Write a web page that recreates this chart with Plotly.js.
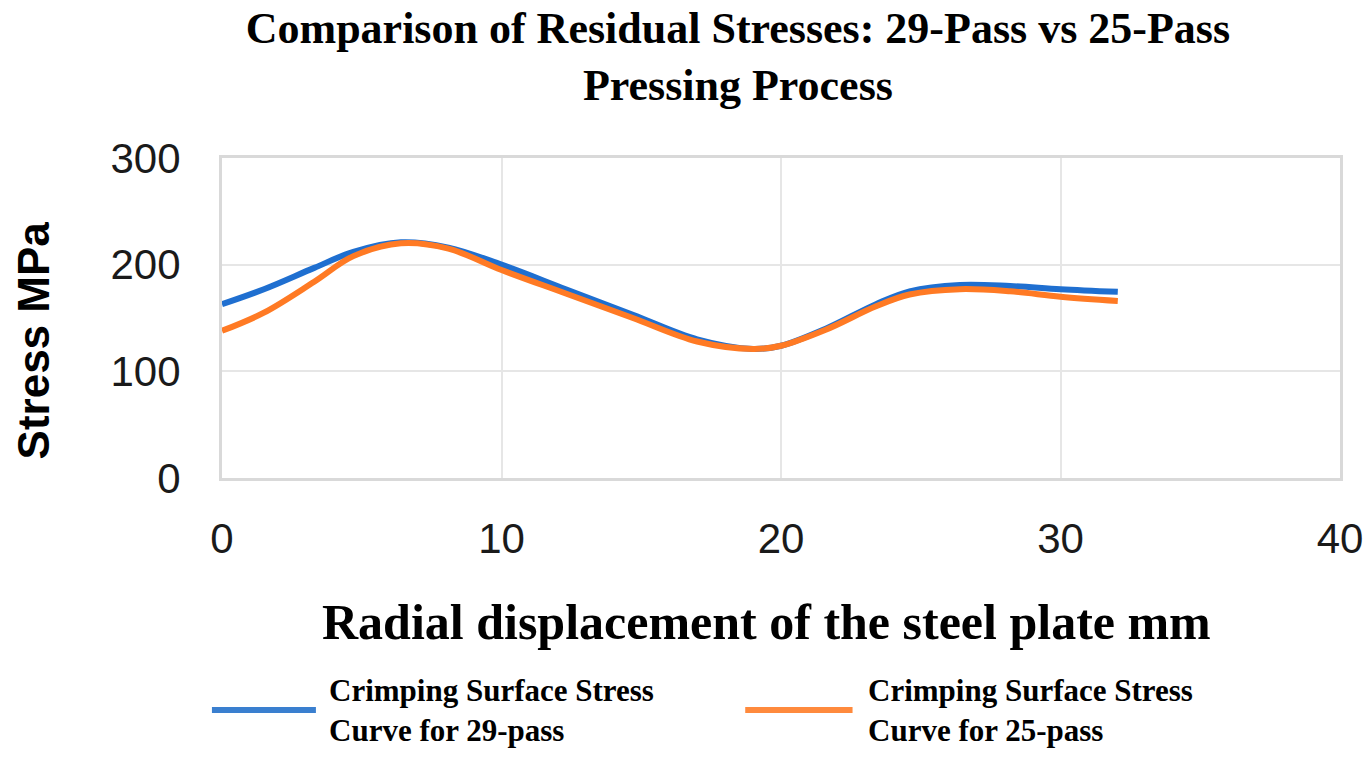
<!DOCTYPE html>
<html>
<head>
<meta charset="utf-8">
<script src="https://cdn.plot.ly/plotly-3.0.1.min.js"></script>
<style>
  html, body { margin: 0; padding: 0; background: #fff; }
  #chart { width: 1369px; height: 762px; }
</style>
</head>
<body>
<div id="chart"></div>
<script>
// residual stress along the radial displacement
const displacement = [0, 1.5, 3.3, 4.7, 6.4, 8.1, 10, 12.3, 14.7, 17, 19, 20, 21.6, 23.4, 24.6, 26.4, 28.2, 30, 32.05];
const stress29 = [163, 177, 197, 212, 221, 216, 200, 177, 153, 130, 121, 124, 140, 163, 175, 181, 180, 177, 174.5];
const stress25 = [138, 155, 184, 208, 220, 215, 195, 173, 150, 128, 121, 124, 139, 161, 172, 177, 175, 170, 166];
const seriesNames = ['Crimping Surface Stress<br>Curve for 29-pass', 'Crimping Surface Stress<br>Curve for 25-pass'];
const xTicks = [0, 10, 20, 30, 40];
const yTicks = [0, 100, 200, 300];

const blue = '#1f6fd0';
const orange = '#ff7a24';
const serif = '"Liberation Serif", "Times New Roman", serif';
const sans = '"Liberation Sans", Arial, sans-serif';

let traces = [
    {
        x: displacement, y: stress29, name: seriesNames[0],
        type: 'scatter', mode: 'lines',
        line: {color: blue, width: 6, shape: 'spline', smoothing: 1}
    },
    {
        x: displacement, y: stress25, name: seriesNames[1],
        type: 'scatter', mode: 'lines',
        line: {color: orange, width: 6, shape: 'spline', smoothing: 1}
    }
]

const layout = {
    width: 1369,
    height: 762,
    paper_bgcolor: '#fff',
    plot_bgcolor: '#fff',
    showlegend: false,
    margin: {l: 222, r: 29, t: 158, b: 284},
    title: {
        text: 'Comparison of Residual Stresses: 29-Pass vs 25-Pass<br>Pressing Process',
        font: {family: serif, size: 44, color: '#000', weight: 'bold'},
        xref: 'container', x: 0.539, xanchor: 'center',
        yref: 'container', y: 0.944, yanchor: 'top'
    },
    xaxis: {
        range: [0, 40],
        tickvals: xTicks,
        ticktext: xTicks.map(String),
        tickfont: {family: sans, size: 42, color: '#1a1a1a'},
        ticklabelstandoff: 22,
        showgrid: true, gridcolor: '#e6e6e6', gridwidth: 2,
        zeroline: false,
        showline: true, linecolor: '#d9d9d9', linewidth: 3, mirror: true,
        ticks: ''
    },
    yaxis: {
        range: [0, 300],
        tickvals: yTicks,
        ticktext: yTicks.map(String),
        tickfont: {family: sans, size: 42, color: '#1a1a1a'},
        ticklabelstandoff: 30,
        showgrid: true, gridcolor: '#e6e6e6', gridwidth: 2,
        zeroline: false,
        showline: true, linecolor: '#d9d9d9', linewidth: 3, mirror: true,
        ticks: ''
    },
    annotations: [
        {
            text: 'Radial displacement of the steel plate mm',
            xref: 'paper', yref: 'paper', x: 0.487, y: -0.45,
            xanchor: 'center', yanchor: 'middle', showarrow: false,
            font: {family: serif, size: 50, color: '#000', weight: 'bold'}
        },
        {
            text: 'Stress MPa', textangle: -90,
            xref: 'paper', yref: 'paper', x: -0.169, y: 0.43,
            xanchor: 'center', yanchor: 'middle', showarrow: false,
            font: {family: sans, size: 44, color: '#000', weight: 'bold'}
        },
        // legend text
        {
            text: seriesNames[0], align: 'left',
            xref: 'paper', yref: 'paper', x: 0.094, y: -0.725,
            xanchor: 'left', yanchor: 'middle', showarrow: false,
            font: {family: serif, size: 31, color: '#000', weight: 'bold'}
        },
        {
            text: seriesNames[1], align: 'left',
            xref: 'paper', yref: 'paper', x: 0.576, y: -0.725,
            xanchor: 'left', yanchor: 'middle', showarrow: false,
            font: {family: serif, size: 31, color: '#000', weight: 'bold'}
        }
    ],
    // legend keys
    shapes: [
        {type: 'line', xref: 'paper', yref: 'paper', x0: -0.009, x1: 0.084, y0: -0.725, y1: -0.725,
         line: {color: '#3a7fcf', width: 6}},
        {type: 'line', xref: 'paper', yref: 'paper', x0: 0.468, x1: 0.564, y0: -0.725, y1: -0.725,
         line: {color: '#ff8a3d', width: 6}}
    ]
}

Plotly.newPlot('chart', traces, layout, {staticPlot: true, displayModeBar: false})
</script>
</body>
</html>
